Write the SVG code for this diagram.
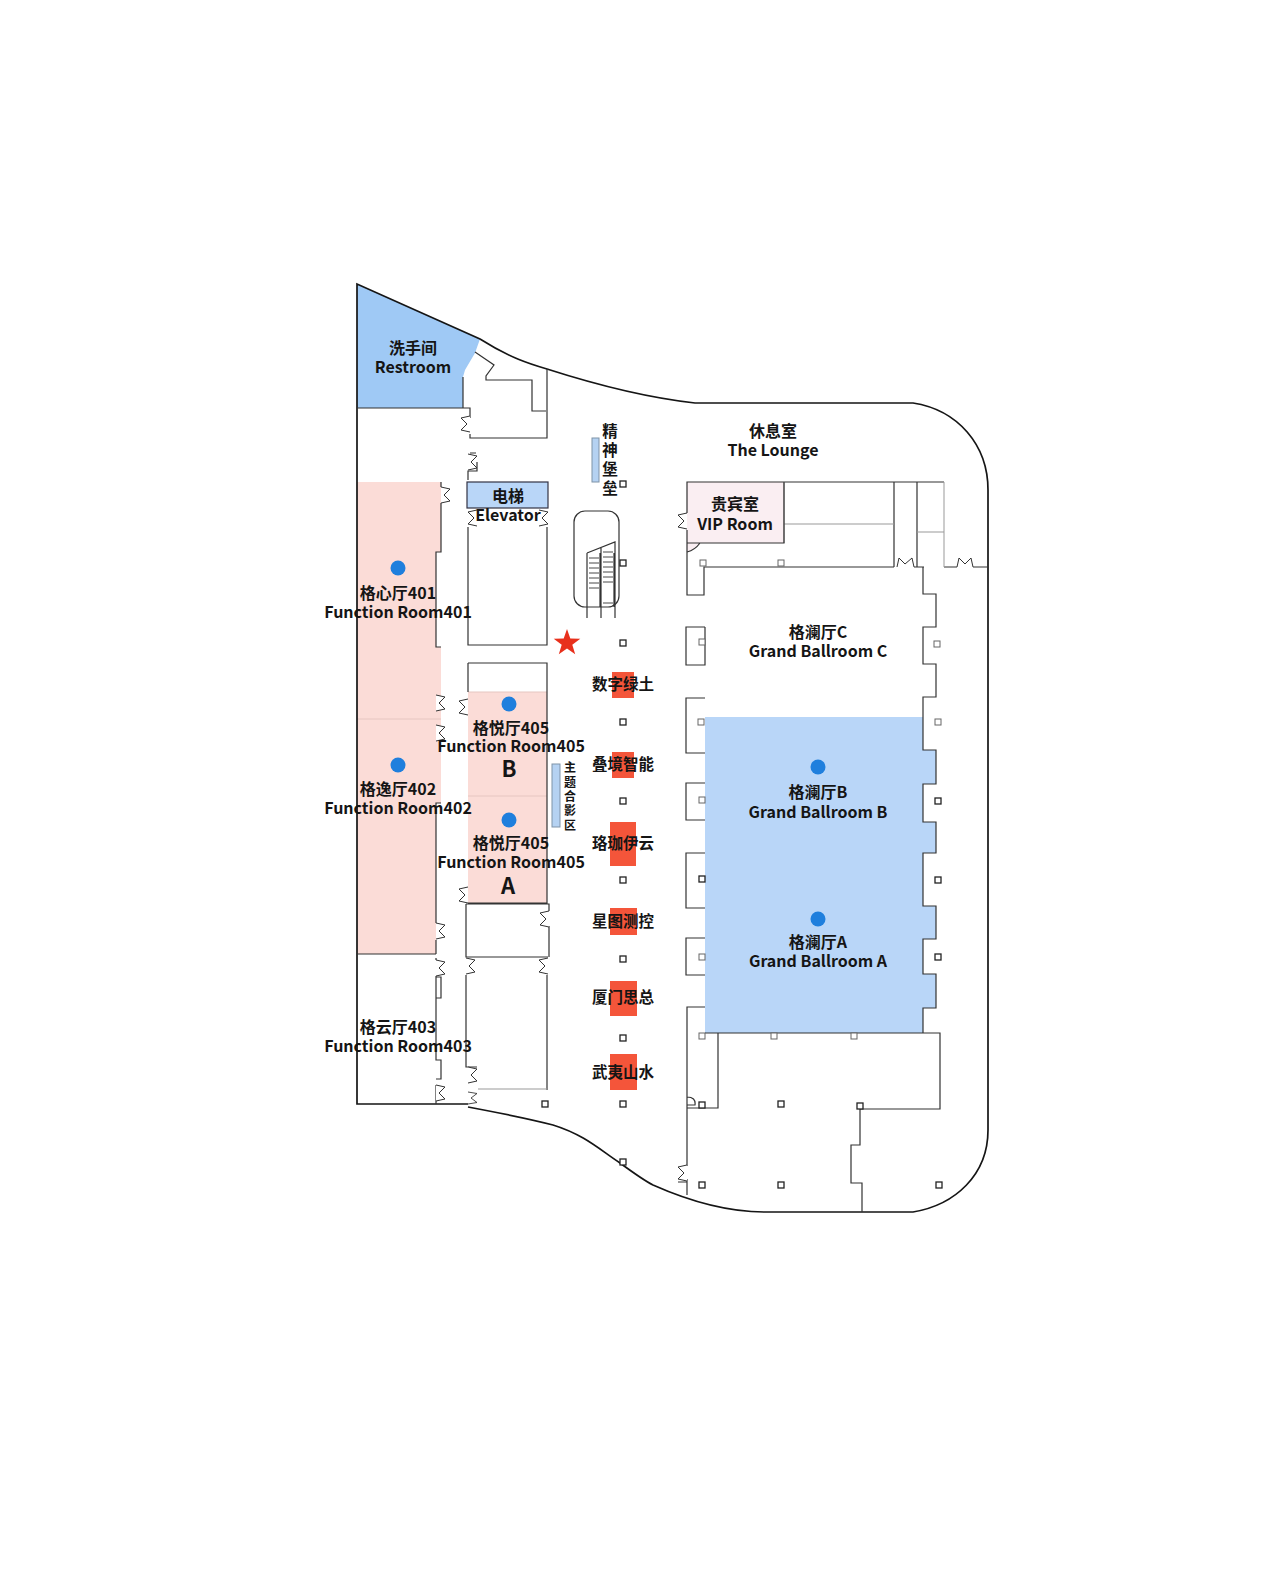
<svg xmlns="http://www.w3.org/2000/svg" xmlns:xlink="http://www.w3.org/1999/xlink" width="1280" height="1579" viewBox="0 0 1280 1579">
<style>
.o{fill:none;stroke:#151515;stroke-width:1.7}
.w{fill:none;stroke:#333;stroke-width:1.2}
.l{fill:none;stroke:#999;stroke-width:1}
.d{fill:#fff;stroke:#333;stroke-width:1}
.c{fill:#fff;stroke:#222;stroke-width:1.3}
.h{fill:#fff;stroke:#666;stroke-width:1}
.pink{fill:#fbdcd7}
.blue{fill:#b9d6f8}
.red{fill:#f4553a}
.dot{fill:#1f7fdd}
.bar{fill:#b5d2f2;stroke:#7f93a8;stroke-width:1}
text{font-family:"Noto Sans CJK SC","Noto Sans",sans-serif;font-weight:700;fill:#151515;text-anchor:middle}
.t{font-size:16px}
.s{font-size:15.5px}
.v{font-size:12px}
.b{font-size:22px}
</style>
<defs>
<path id="door" class="d" d="M0,0 L9,2 L3,8 L9,14 L0,16"/>
<rect id="col" class="c" x="-3" y="-3" width="6" height="6"/>
<rect id="colh" class="h" x="-3" y="-3" width="6" height="6"/>
</defs>
<rect width="1280" height="1579" fill="#fff"/>
<g id="rooms">
<polygon id="restroom-fill" fill="#9fc9f5" points="357,284 480,339 475,353 465,370 463,377 463,408 357,408"/>
<polygon id="room401-402-fill" class="pink" points="357,482 441,482 441,552 436,552 436,647 441,647 441,803 436,803 436,954 357,954"/>
<rect id="room405-fill" class="pink" x="468" y="692" width="79" height="211"/>
<rect id="elevator-fill" class="blue" x="467" y="482" width="81" height="26" stroke="#334" stroke-width="1.2"/>
<path id="vip-fill" fill="#faeef2" d="M687,482 H784 V543 H700 Q695,550 687,552 Z"/>
<polygon id="ballroom-fill" class="blue" points="705,717 923,717 923,750 936,750 936,784 923,784 923,822 936,822 936,853 923,853 923,906 936,906 936,939 923,939 923,974 936,974 936,1008 923,1008 923,1033 705,1033"/>
<path class="l" stroke="#e8c4bf" style="stroke:#e6c6c1" d="M357,719 H441 M468,692 H547 M468,796 H547"/>
<rect class="bar" x="592" y="438" width="7" height="44"/>
<rect class="bar" x="552" y="764" width="8" height="63"/>
</g>
<g id="booths">
<rect class="red" x="612" y="672" width="22" height="26"/>
<rect class="red" x="612" y="752" width="22" height="26"/>
<rect class="red" x="610" y="822" width="26" height="44"/>
<rect class="red" x="610" y="908" width="27" height="27"/>
<rect class="red" x="610" y="981" width="27" height="35"/>
<rect class="red" x="610" y="1054" width="27" height="36"/>
</g>
<g id="walls">
<path class="o" d="M468,1104 H357 V284 L480,339 C510,358 530,364 547,369 C600,386 650,398 695,403 H913 C958,410 988,445 988,490 V1130 C988,1175 955,1205 913,1212 H765 C720,1212 680,1197 653,1185 C645,1181 635,1174 620,1163 C600,1150 585,1135 553,1125 C530,1119 500,1113 468,1107"/>
<path class="w" d="M463,377 V408 M357,408 H463 H470 V418 M470,434 V438 H547 V369 M475,352 L494,365 L486,376 V380 H532 V411 H546"/>
<path class="w" d="M468,480 V471 H477 V462 M470,453 H476"/>
<path class="w" d="M441,482 V487 M441,503 V552 H436 V647 H441 M441,803 H436 V923 M436,940 V954 M357,954 H436"/>
<path class="w" d="M436,960 V958 M436,976 V998 H441 V977 H436 M436,998 V1060 H441 V1079 H436 M436,1085 V1104"/>
<path class="w" d="M468,527 V645 H547 V527 M468,663 H547 V903 H468 M468,663 V692 M466,904 H549 V911 M549,926 V957 M466,904 V957 H548 M466,975 V1067 H477 M547,975 V1090"/>
<path class="l" d="M478,1089 H547"/>
<path class="w" d="M687,513 V482 H944 M687,530 V595 H704 V567 H894 M894,482 V567 M917,482 V567 H923 V573 M914,567 H924 M944,567 H957 M973,567 H988"/>
<path class="l" d="M944,482 V567 M917,532 H944 M784,524 H894 M784,482 V543"/>
<path class="w" d="M687,543 H784 V482 M687,552 Q695,550 700,543"/>
<path class="w" d="M923,573 V594 H936 V627 H923 V664 H936 V697 H923 V750 H936 V784 H923 V822 H936 V853 H923 V906 H936 V939 H923 V974 H936 V1008 H923 V1033"/>
<path class="w" d="M705,627 H686 V665 H705 V627 M705,698 H686 V753 H705 M705,783 H686 V820 H705 M705,853 H686 V908 H705 M705,938 H686 V975 H705"/>
<path class="w" d="M705,1007 H687 V1166 M687,1179 V1195 M678,1182 H687 M705,1033 H940 V1109 H860 V1145 H851 V1183 H862 V1212 M718,1033 V1108 H687 M687,1097 Q696,1097 695,1105 L687,1105"/>
<rect class="w" x="574" y="511" width="45" height="96" rx="11" style="fill:#fff"/>
<path class="w" d="M587,553 L615,542 V618 M587,553 V618 M601,548 V618 M600,553 V607 M614,553 V607"/>
<path class="w" style="stroke-width:.9" d="M589,558 H599 M589,563 H599 M589,568 H599 M589,573 H599 M589,578 H599 M589,583 H599 M589,588 H599 M603,552 H613 M603,557 H613 M603,562 H613 M603,567 H613 M603,572 H613 M603,577 H613 M603,582 H613 M603,603 H613"/>
</g>
<g id="doors">
<use xlink:href="#door" transform="translate(470,416) scale(-1,1)"/>
<use xlink:href="#door" transform="translate(468,454)"/>
<use xlink:href="#door" transform="translate(441,487)"/>
<use xlink:href="#door" transform="translate(477,510) scale(-1,1)"/>
<use xlink:href="#door" transform="translate(539,510)"/>
<use xlink:href="#door" transform="translate(436,695)"/>
<use xlink:href="#door" transform="translate(436,725)"/>
<use xlink:href="#door" transform="translate(436,923)"/>
<use xlink:href="#door" transform="translate(436,960)"/>
<use xlink:href="#door" transform="translate(436,1085)"/>
<use xlink:href="#door" transform="translate(468,699) scale(-1,1)"/>
<use xlink:href="#door" transform="translate(468,887) scale(-1,1)"/>
<use xlink:href="#door" transform="translate(549,911) scale(-1,1)"/>
<use xlink:href="#door" transform="translate(466,958)"/>
<use xlink:href="#door" transform="translate(548,958) scale(-1,1)"/>
<use xlink:href="#door" transform="translate(468,1067)"/>
<use xlink:href="#door" transform="translate(468,1092) scale(1,.75)"/>
<use xlink:href="#door" transform="translate(687,513) scale(-1,1)"/>
<use xlink:href="#door" transform="translate(687,1165) scale(-1,1)"/>
<path class="d" d="M897,567 L899,558 L905,564 L912,558 L914,567"/>
<path class="d" d="M957,567 L959,558 L965,564 L971,558 L973,567"/>
</g>
<g id="columns">
<use xlink:href="#col" x="623" y="484"/><use xlink:href="#col" x="623" y="563"/><use xlink:href="#col" x="623" y="643"/>
<use xlink:href="#col" x="623" y="722"/><use xlink:href="#col" x="623" y="801"/><use xlink:href="#col" x="623" y="880"/>
<use xlink:href="#col" x="623" y="959"/><use xlink:href="#col" x="623" y="1038"/><use xlink:href="#col" x="623" y="1104"/>
<use xlink:href="#col" x="623" y="1162"/><use xlink:href="#col" x="545" y="1104"/>
<use xlink:href="#colh" x="703" y="563"/><use xlink:href="#colh" x="781" y="563"/>
<use xlink:href="#colh" x="702" y="642"/><use xlink:href="#colh" x="701" y="722"/><use xlink:href="#colh" x="702" y="800"/><use xlink:href="#col" x="702" y="879"/><use xlink:href="#colh" x="702" y="957"/>
<use xlink:href="#colh" x="937" y="644"/><use xlink:href="#colh" x="938" y="722"/><use xlink:href="#col" x="938" y="801"/><use xlink:href="#col" x="938" y="880"/><use xlink:href="#col" x="938" y="957"/>
<use xlink:href="#colh" x="702" y="1036"/><use xlink:href="#colh" x="774" y="1036"/><use xlink:href="#colh" x="854" y="1036"/>
<use xlink:href="#col" x="702" y="1105"/><use xlink:href="#col" x="781" y="1104"/><use xlink:href="#col" x="860" y="1106"/>
<use xlink:href="#col" x="702" y="1185"/><use xlink:href="#col" x="781" y="1185"/><use xlink:href="#col" x="939" y="1185"/>
</g>
<g id="markers">
<circle class="dot" cx="398" cy="568" r="7.5"/><circle class="dot" cx="398" cy="765" r="7.5"/>
<circle class="dot" cx="509" cy="704" r="7.5"/><circle class="dot" cx="509" cy="820" r="7.5"/>
<circle class="dot" cx="818" cy="767" r="7.5"/><circle class="dot" cx="818" cy="919" r="7.5"/>
<polygon fill="#e8301c" points="567,629 570.3,638.5 580.3,638.7 572.3,644.7 575.2,654.3 567,648.6 558.8,654.3 561.7,644.7 553.7,638.7 563.7,638.5"/>
</g>
<g id="labels">
<text class="t" x="413" y="354">洗手间</text><text class="t" x="413" y="373">Restroom</text>
<text class="t" x="508" y="502">电梯</text><text class="t" x="508" y="521">Elevator</text>
<text class="t" x="398" y="599">格心厅401</text><text class="t" x="398" y="618">Function Room401</text>
<text class="t" x="398" y="795">格逸厅402</text><text class="t" x="398" y="814">Function Room402</text>
<text class="t" x="398" y="1033">格云厅403</text><text class="t" x="398" y="1052">Function Room403</text>
<text class="t" x="511" y="734">格悦厅405</text><text class="t" x="511" y="752">Function Room405</text><text class="b" x="509" y="777">B</text>
<text class="t" x="511" y="849">格悦厅405</text><text class="t" x="511" y="868">Function Room405</text><text class="b" x="508" y="894">A</text>
<text class="t" x="773" y="437">休息室</text><text class="t" x="773" y="456">The Lounge</text>
<text class="t" x="735" y="510">贵宾室</text><text class="t" x="735" y="530">VIP Room</text>
<text class="t" x="818" y="638">格澜厅C</text><text class="t" x="818" y="657">Grand Ballroom C</text>
<text class="t" x="818" y="798">格澜厅B</text><text class="t" x="818" y="818">Grand Ballroom B</text>
<text class="t" x="818" y="948">格澜厅A</text><text class="t" x="818" y="967">Grand Ballroom A</text>
<text class="s" x="623" y="690">数字绿土</text>
<text class="s" x="623" y="770">叠境智能</text>
<text class="s" x="623" y="849">珞珈伊云</text>
<text class="s" x="623" y="927">星图测控</text>
<text class="s" x="623" y="1003">厦门思总</text>
<text class="s" x="623" y="1078">武夷山水</text>
<text class="s" x="610" y="437">精</text><text class="s" x="610" y="456">神</text><text class="s" x="610" y="475">堡</text><text class="s" x="610" y="494">垒</text>
<text class="v" x="570" y="772">主</text><text class="v" x="570" y="787">题</text><text class="v" x="570" y="801">合</text><text class="v" x="570" y="815">影</text><text class="v" x="570" y="830">区</text>
</g>
</svg>
